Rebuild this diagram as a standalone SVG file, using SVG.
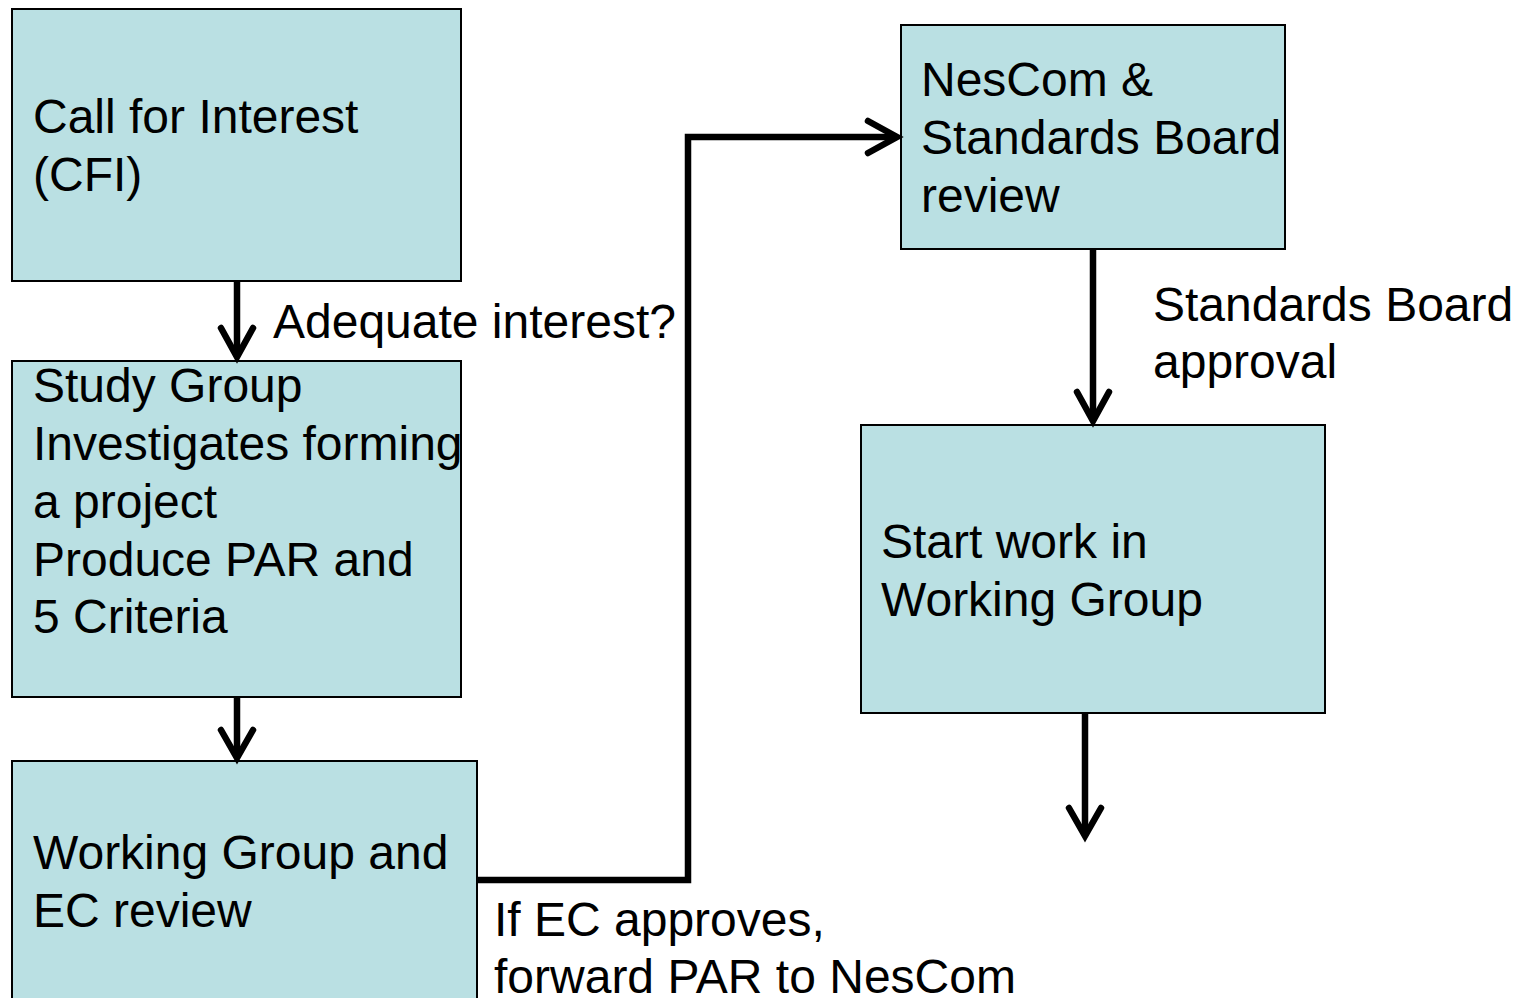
<svg xmlns="http://www.w3.org/2000/svg" width="1522" height="998" viewBox="0 0 1522 998">
<style>
.box{fill:#BAE0E3;stroke:#000;stroke-width:2}
.t{font-family:"Liberation Sans",Arial,sans-serif;font-size:48px;fill:#000}
.c{fill:none;stroke:#000;stroke-width:6.5;stroke-linejoin:miter}
.ah{fill:none;stroke:#000;stroke-width:6.5;stroke-linecap:round;stroke-linejoin:miter}
</style>
<rect width="1522" height="998" fill="#fff"/>
<g id="cfi"><rect class="box" x="12" y="9" width="449" height="272"/>
<text class="t" x="33" y="133">Call for Interest</text><text class="t" x="33" y="191">(CFI)</text></g>
<g id="study"><rect class="box" x="12" y="361" width="449" height="336"/>
<text class="t" x="33" y="402">Study Group</text><text class="t" x="33" y="460">Investigates forming</text><text class="t" x="33" y="518">a project</text><text class="t" x="33" y="576">Produce PAR and</text><text class="t" x="33" y="633">5 Criteria</text></g>
<g id="wgec"><rect class="box" x="12" y="761" width="465" height="250"/>
<text class="t" x="33" y="869">Working Group and</text><text class="t" x="33" y="927">EC review</text></g>
<g id="nescom"><rect class="box" x="901" y="25" width="384" height="224"/>
<text class="t" x="921" y="96">NesCom &amp;</text><text class="t" x="921" y="154">Standards Board</text><text class="t" x="921" y="212">review</text></g>
<g id="startwork"><rect class="box" x="861" y="425" width="464" height="288"/>
<text class="t" x="881" y="558">Start work in</text><text class="t" x="881" y="616">Working Group</text></g>
<g id="connectors">
<line class="c" x1="237" y1="282" x2="237" y2="357"/>
<polyline class="ah" points="221,328 237,357 253,328"/>
<line class="c" x1="237" y1="698" x2="237" y2="758"/>
<polyline class="ah" points="221,730 237,758 253,730"/>
<polyline class="c" points="478,880 688,880 688,137 897,137"/>
<polyline class="ah" points="868,121 897,137 868,153"/>
<line class="c" x1="1093" y1="250" x2="1093" y2="421"/>
<polyline class="ah" points="1077,392 1093,421 1109,392"/>
<line class="c" x1="1085" y1="714" x2="1085" y2="836"/>
<polyline class="ah" points="1069,808 1085,836 1101,808"/>
<text class="t" x="273" y="338">Adequate interest?</text>
<text class="t" x="494" y="936">If EC approves,</text>
<text class="t" x="494" y="993">forward PAR to NesCom</text>
<text class="t" x="1153" y="321">Standards Board</text>
<text class="t" x="1153" y="378">approval</text>
</g>
</svg>
